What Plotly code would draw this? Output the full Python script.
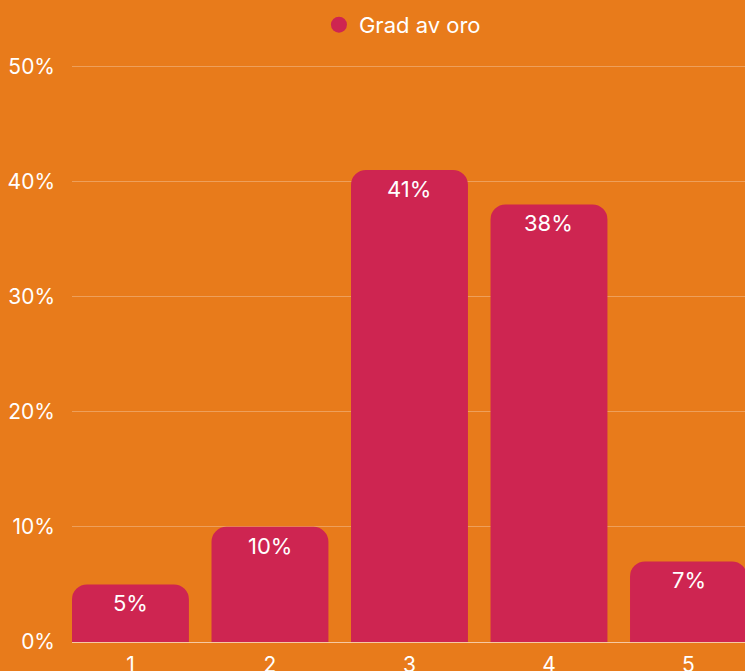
import plotly.graph_objects as go

# Dados
categorias = [1, 2, 3, 4, 5]
valores = [5, 10, 41, 38, 7]
serie = 'Grad av oro'

cor_fundo = '#E87B1B'
cor_barra = '#CE2551'

fig = go.Figure()

fig.add_trace(go.Bar(
    x=categorias,
    y=valores,
    marker=dict(color=cor_barra, cornerradius=15, line=dict(width=0)),
    width=0.838,
    showlegend=False,
    hoverinfo='skip',
))

# Rótulos das barras
for c, v in zip(categorias, valores):
    fig.add_annotation(
        x=c, y=v, text=f'{v}%', showarrow=False,
        yanchor='top', yshift=-4,
        font=dict(color='white', size=22),
    )

# Legenda com marcador circular
fig.add_trace(go.Scatter(
    x=[None], y=[None], mode='markers', name=serie,
    marker=dict(color=cor_barra, size=24, symbol='circle'),
))

fig.update_layout(
    width=745, height=671,
    paper_bgcolor=cor_fundo,
    plot_bgcolor=cor_fundo,
    font=dict(family='Inter, Roboto, sans-serif', color='white', size=21),
    margin=dict(l=72, r=0, t=64, b=29),
    legend=dict(
        orientation='h', x=0.491, xanchor='center',
        yref='container', y=0.963, yanchor='middle',
        font=dict(size=22, color='white'),
        itemsizing='trace',
    ),
)

fig.update_xaxes(
    range=[0.581, 5.405],
    tickvals=categorias,
    ticktext=[str(c) for c in categorias],
    showgrid=False,
    zeroline=False,
    showline=False,
    ticks='',
    ticklabelstandoff=8,
    automargin=False,
    tickfont=dict(size=21, color='white'),
)

fig.update_yaxes(
    range=[0, 50.2],
    dtick=10,
    ticksuffix='%',
    showgrid=True,
    gridcolor='rgba(255,255,255,0.28)',
    gridwidth=1,
    zeroline=True,
    zerolinecolor='rgba(255,255,255,0.6)',
    zerolinewidth=1,
    ticks='',
    ticklabelstandoff=16,
    automargin=False,
    tickfont=dict(size=21, color='white'),
)

fig.write_html('out.html', config={'displayModeBar': False},
               post_script="document.body.style.margin='0';")
